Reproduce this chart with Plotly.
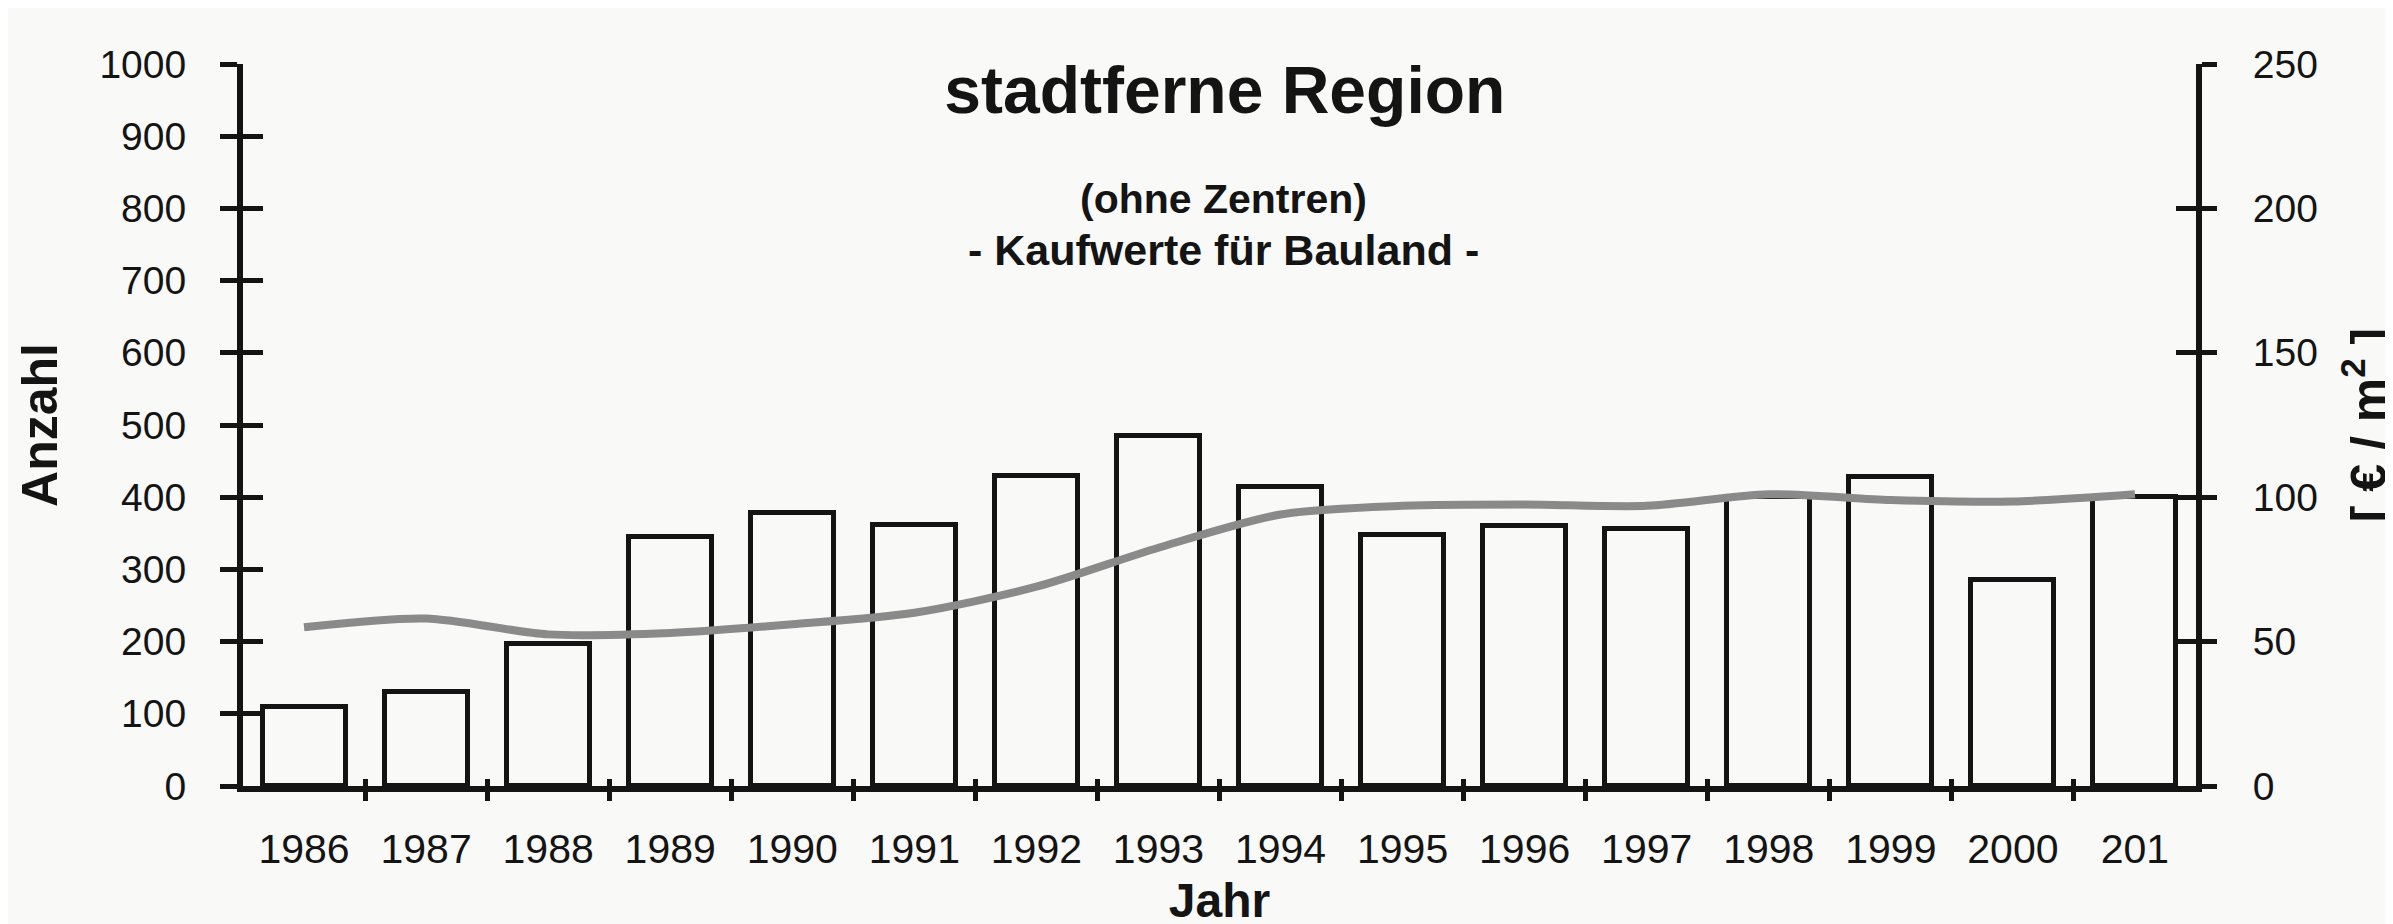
import plotly.graph_objects as go

# ---- data ----
years = list(range(1986, 2002))
year_labels = ["1986", "1987", "1988", "1989", "1990", "1991", "1992", "1993",
               "1994", "1995", "1996", "1997", "1998", "1999", "2000", "201"]
anzahl = [110, 130, 197, 345, 378, 362, 429, 485, 414, 348, 360, 356, 400, 428, 286, 400]
preis = [55, 58, 52.5, 53, 56, 60, 69, 82.5, 94, 97, 97.5, 97, 101, 99, 98.5, 101]
left_ticks = list(range(0, 1001, 100))
right_ticks = list(range(0, 251, 50))
half_years = [y + 0.5 for y in years[:-1]]

FONT = "Liberation Sans, Arial, sans-serif"
INK = "#141414"
BG = "#f9f9f8"
XR = [1985.5, 2001.5]

fig = go.Figure()
fig.add_trace(go.Bar(x=years, y=anzahl, width=0.68, marker=dict(color=BG, line=dict(color=INK, width=5)),
                     xaxis="x", yaxis="y", showlegend=False))
fig.add_trace(go.Scatter(x=years, y=preis, mode="lines", line=dict(color="#8a8a8a", width=8, shape="spline", smoothing=0.8),
                         xaxis="x", yaxis="y2", showlegend=False))
# dummy traces for helper axes
for xa, ya in [("x2", "y"), ("x3", "y"), ("x", "y3"), ("x", "y4")]:
    fig.add_trace(go.Scatter(x=[1990], y=[None], xaxis=xa, yaxis=ya, showlegend=False, hoverinfo="skip"))

fig.update_layout(
    width=2393, height=924,
    margin=dict(l=235, r=197, t=56, b=144),
    paper_bgcolor=BG, plot_bgcolor=BG,
    font=dict(family=FONT, color=INK),
    bargap=0,
    title=dict(text="<b>stadtferne Region</b>", x=0.5085, xanchor="center", y=1 - 82 / 924, yanchor="middle",
               font=dict(size=66, family=FONT, color=INK)),
    xaxis=dict(range=XR, tickvals=years, ticktext=year_labels, ticks="", showline=True, linewidth=6, linecolor=INK,
               showgrid=False, zeroline=False, tickfont=dict(size=41), ticklabelstandoff=22,
               title=dict(text="<b>Jahr</b>", font=dict(size=48), standoff=14)),
    xaxis2=dict(range=XR, overlaying="x", anchor="y", side="bottom", tickvals=half_years, ticks="outside", ticklen=14,
                tickwidth=5, tickcolor=INK, showticklabels=False, showline=False, showgrid=False, zeroline=False),
    xaxis3=dict(range=XR, overlaying="x", anchor="y", side="bottom", tickvals=half_years, ticks="inside", ticklen=7,
                tickwidth=5, tickcolor=INK, showticklabels=False, showline=False, showgrid=False, zeroline=False),
    yaxis=dict(range=[0, 1000], tickvals=left_ticks, ticks="outside", ticklen=17, tickwidth=5, tickcolor=INK,
               showline=True, linewidth=6, linecolor=INK, showgrid=False, zeroline=False,
               tickfont=dict(size=39), ticklabelstandoff=26,
               title=dict(text="<b>Anzahl</b>", font=dict(size=50), standoff=28)),
    yaxis3=dict(range=[0, 1000], overlaying="y", side="left", anchor="x", tickvals=left_ticks, ticks="inside", ticklen=20,
                tickwidth=5, tickcolor=INK, showticklabels=False, showline=False, showgrid=False, zeroline=False),
    yaxis2=dict(range=[0, 250], overlaying="y", side="right", anchor="x", tickvals=right_ticks, ticks="outside", ticklen=15,
                tickwidth=5, tickcolor=INK, showline=True, linewidth=6, linecolor=INK, showgrid=False, zeroline=False,
                tickfont=dict(size=39), ticklabelstandoff=28,
                title=dict(text="<b>[ € / m<sup>2</sup> ]</b>", font=dict(size=50), standoff=36)),
    yaxis4=dict(range=[0, 250], overlaying="y", side="right", anchor="x", tickvals=right_ticks, ticks="inside", ticklen=20,
                tickwidth=5, tickcolor=INK, showticklabels=False, showline=False, showgrid=False, zeroline=False),
    annotations=[
        dict(text="<b>(ohne Zentren)</b>", x=0.502, y=(780 - 191) / 724, xref="paper", yref="paper",
             showarrow=False, font=dict(size=41, family=FONT, color=INK), xanchor="center", yanchor="middle"),
        dict(text="<b>- Kaufwerte für Bauland -</b>", x=0.502, y=(780 - 243) / 724, xref="paper", yref="paper",
             showarrow=False, font=dict(size=43, family=FONT, color=INK), xanchor="center", yanchor="middle"),
    ],
)

fig.write_html("out.html")
